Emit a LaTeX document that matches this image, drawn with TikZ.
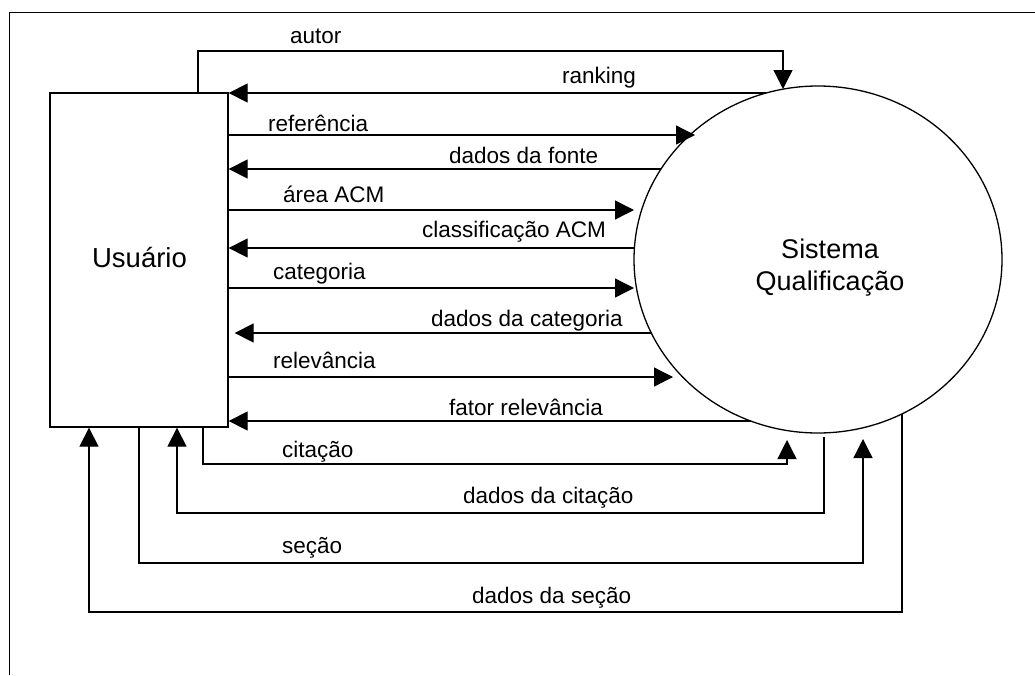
\documentclass[tikz,border=0pt]{standalone}
\usepackage{fontspec}
\setmainfont{Liberation Sans}
\usetikzlibrary{arrows.meta,shapes.geometric}

\begin{document}
\begin{tikzpicture}[x=1pt,y=-1pt,
  flow/.style={line width=1.3pt},
  arr/.style={flow,-{Triangle[length=19pt,width=19pt]}},
  lbl/.style={anchor=base west,inner sep=0pt,font=\fontsize{22.5}{27}\selectfont},
  % horizontal / vertical border points of the process ellipse
  declare function={ex(\t)=818-184*sqrt(1-((\t-259.5)/173.5)^2);
                    ey(\s)=259.5+173.5*sqrt(1-((\s-818)/184)^2);}
]
\useasboundingbox (0,0) rectangle (1035,675);

% page frame
\draw[line width=1pt] (9,675) -- (9,12) -- (1035,12);

% external entity and process
\node[draw, line width=1.3pt, minimum width=178pt, minimum height=334pt,
      inner sep=0pt] (usr) at (139,260) {};
\node[anchor=base, inner sep=0pt, font=\fontsize{27.5}{33}\selectfont]
      (usrtxt) at (139.5,267) {Usuário};
\node[draw, ellipse, line width=1.3pt, minimum width=368pt, minimum height=347pt,
      inner sep=0pt] (sys) at (818,259.5) {};
\node[font=\fontsize{27}{32}\selectfont, align=center, anchor=base, inner sep=0pt]
      (systxt) at (830,290) {Sistema\\Qualificação};

% connector ends on the process border
\coordinate (autorEnd) at (783,89);
\coordinate (rankStart) at ({ex(93)},93);
\coordinate (refEnd) at (695,135);
\coordinate (fonteStart) at ({ex(169)},169);
\coordinate (areaEnd) at (634,210);
\coordinate (classStart) at ({ex(248)},248);
\coordinate (catEnd) at (634,288);
\coordinate (dcatStart) at ({ex(333)},333);
\coordinate (relEnd) at (673,377);
\coordinate (fatorStart) at ({ex(421)},421);
\coordinate (citEnd) at (787,440);
\coordinate (dcitStart) at (824,437);
\coordinate (secEnd) at (863,439);
\coordinate (dsecStart) at (902,{ey(902)});

% flows above and beside the entity
\draw[arr] (usr.north -| 198,0) -- (198,51) -- (autorEnd |- 0,51) -- (autorEnd);
\draw[arr] (rankStart) -- (usr.east |- rankStart);
\draw[arr] (usr.east |- refEnd) -- (refEnd);
\draw[arr] (fonteStart) -- (usr.east |- fonteStart);
\draw[arr] (usr.east |- areaEnd) -- (areaEnd);
\draw[arr] (classStart) -- (usr.east |- classStart);
\draw[arr] (usr.east |- catEnd) -- (catEnd);
\draw[arr] (dcatStart) -- ([xshift=6pt]usr.east |- dcatStart);
\draw[arr] (usr.east |- relEnd) -- (relEnd);
\draw[arr] (fatorStart) -- (usr.east |- fatorStart);

% flows below
\draw[arr] (usr.south -| 203,0) -- (203,464) -- (citEnd |- 0,464) -- (citEnd);
\draw[arr] (dcitStart) -- (824,513) -- (177,513) -- (usr.south -| 177,0);
\draw[arr] (usr.south -| 139,0) -- (139,563) -- (secEnd |- 0,563) -- (secEnd);
\draw[arr] (dsecStart) -- (902,612) -- (89,612) -- (usr.south -| 89,0);

% flow labels
\node[lbl] (lAutor) at (290,43) {autor};
\node[lbl] (lRank) at (562,83) {ranking};
\node[lbl] (lRef) at (268,131) {referência};
\node[lbl] (lFonte) at (449,163) {dados da fonte};
\node[lbl] (lArea) at (283,202) {área ACM};
\node[lbl] (lClass) at (422,237) {classificação ACM};
\node[lbl] (lCat) at (273,279) {categoria};
\node[lbl] (lDcat) at (431,326) {dados da categoria};
\node[lbl] (lRel) at (273,368) {relevância};
\node[lbl] (lFator) at (449,415) {fator relevância};
\node[lbl] (lCit) at (282,457) {citação};
\node[lbl] (lDcit) at (463,503) {dados da citação};
\node[lbl] (lSec) at (282,553) {seção};
\node[lbl] (lDsec) at (472,603) {dados da seção};
\end{tikzpicture}
\end{document}
